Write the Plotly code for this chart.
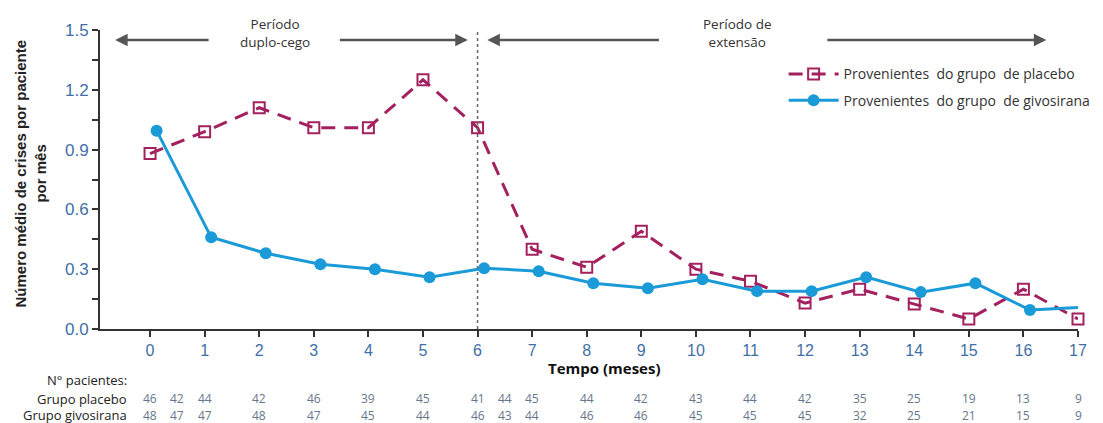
import plotly.graph_objects as go

# Mean number of attacks per patient per month, by month of follow-up
months = list(range(18))
placebo = [0.88, 0.99, 1.11, 1.01, 1.01, 1.25, 1.01, 0.40, 0.31, 0.49,
           0.30, 0.24, 0.13, 0.20, 0.125, 0.05, 0.20, 0.05]
givosiran = [0.995, 0.46, 0.38, 0.325, 0.30, 0.26, 0.305, 0.29, 0.23, 0.205,
             0.25, 0.19, 0.19, 0.26, 0.185, 0.23, 0.095, 0.11]

# Number of patients at each visit
count_months = [0, 0.5, 1, 2, 3, 4, 5, 6, 6.5, 7, 8, 9, 10, 11, 12, 13, 14, 15, 16, 17]
n_placebo = [46, 42, 44, 42, 46, 39, 45, 41, 44, 45, 44, 42, 43, 44, 42, 35, 25, 19, 13, 9]
n_givosiran = [48, 47, 47, 48, 47, 45, 44, 46, 43, 44, 46, 46, 45, 45, 45, 32, 25, 21, 15, 9]

y_ticks = [0.0, 0.3, 0.6, 0.9, 1.2, 1.5]

PLACEBO_COLOR = "#a3215f"
GIVO_COLOR = "#1b9ad8"
TICK_COLOR = "#3f6fa6"
AXIS_COLOR = "#333333"
ARROW_COLOR = "#555555"
TEXT_FONT = "Open Sans"
DODGE = 0.12  # small horizontal offset so the two series don't overlap

fig = go.Figure()

fig.add_trace(go.Scatter(
    x=months, y=placebo, mode="lines+markers",
    name="Provenientes  do grupo  de placebo", legendgroup="placebo",
    line=dict(color=PLACEBO_COLOR, width=3, dash="14px,9px"),
    marker=dict(symbol="square-open", size=11, color=PLACEBO_COLOR,
                line=dict(width=2, color=PLACEBO_COLOR)),
    cliponaxis=False,
))
fig.add_trace(go.Scatter(
    x=[m + DODGE for m in months], y=givosiran, mode="lines+markers",
    name="Provenientes  do grupo  de givosirana", legendgroup="givosiran",
    line=dict(color=GIVO_COLOR, width=3),
    marker=dict(symbol="circle", size=12, color=GIVO_COLOR),
    cliponaxis=False,
))

# Boundary between the double-blind and the extension period
fig.add_shape(type="line", x0=6, x1=6, y0=0, y1=1.54, xref="x", yref="y",
              line=dict(color="#666666", width=1.5, dash="dot"))

# Period arrows
arrows = [(1.1, -0.64), (3.45, 5.82), (9.35, 6.18), (12.38, 16.42)]
for start, end in arrows:
    fig.add_annotation(x=end, y=1.45, ax=start, ay=1.45, xref="x", yref="y",
                       axref="x", ayref="y", text="", showarrow=True,
                       arrowhead=2, arrowsize=1.0, arrowwidth=2.5,
                       arrowcolor=ARROW_COLOR)

fig.add_annotation(x=2.29, y=1.485, xref="x", yref="y", showarrow=False,
                   xanchor="center", yanchor="middle", align="center",
                   text="Período<br>duplo-cego",
                   font=dict(family=TEXT_FONT, size=13.5, color="#333333"))
fig.add_annotation(x=10.76, y=1.485, xref="x", yref="y", showarrow=False,
                   xanchor="center", yanchor="middle", align="center",
                   text="Período de<br>extensão",
                   font=dict(family=TEXT_FONT, size=13.5, color="#333333"))

# Y axis title, one annotation per line so both lines stay centred
y_title_lines = [(-0.0808, "<b>Número médio de crises por paciente</b>"),
                 (-0.0613, "<b>por mês</b>")]
for xpos, line in y_title_lines:
    fig.add_annotation(x=xpos, y=0.52, xref="paper", yref="paper", showarrow=False,
                       xanchor="center", yanchor="middle", textangle=-90,
                       text=line,
                       font=dict(family="Liberation Sans", size=15, color="#222222"))
fig.add_annotation(x=0.516, y=-0.13, xref="paper", yref="paper", showarrow=False,
                   xanchor="center", yanchor="middle",
                   text="<b>Tempo (meses)</b>",
                   font=dict(family=TEXT_FONT, size=15, color="#111111"))

# Patients-at-risk table
LABEL_X = 0.03
ROW_Y = {"header": -0.171, "placebo": -0.234, "givosiran": -0.288}
row_labels = [("header", "N° pacientes:"), ("placebo", "Grupo placebo"),
              ("givosiran", "Grupo givosirana")]
for key, label in row_labels:
    fig.add_annotation(x=LABEL_X, y=ROW_Y[key], xref="paper", yref="paper",
                       showarrow=False, xanchor="right", yanchor="middle",
                       text=label,
                       font=dict(family=TEXT_FONT, size=13, color="#222222"))
for m, a, b in zip(count_months, n_placebo, n_givosiran):
    fig.add_annotation(x=m, y=ROW_Y["placebo"], xref="x", yref="paper",
                       showarrow=False, xanchor="center", yanchor="middle",
                       text=str(a), font=dict(family=TEXT_FONT, size=12, color="#66768c"))
    fig.add_annotation(x=m, y=ROW_Y["givosiran"], xref="x", yref="paper",
                       showarrow=False, xanchor="center", yanchor="middle",
                       text=str(b), font=dict(family=TEXT_FONT, size=12, color="#66768c"))

fig.update_xaxes(
    range=[-0.917, 17], tickvals=months, ticktext=[str(m) for m in months],
    showline=True, linecolor=AXIS_COLOR, linewidth=2,
    ticks="outside", ticklen=6, tickwidth=1.5, tickcolor=AXIS_COLOR,
    tickfont=dict(family="Liberation Sans", size=16, color=TICK_COLOR),
    showgrid=False, zeroline=False,
)
fig.update_yaxes(
    range=[0, 1.5], tickvals=y_ticks, tickformat=".1f",
    showline=True, linecolor=AXIS_COLOR, linewidth=2,
    ticks="outside", ticklen=6, tickwidth=1.5, tickcolor=AXIS_COLOR,
    minor=dict(dtick=0.15, tick0=0, ticks="outside", ticklen=6, tickwidth=1.5,
               tickcolor=AXIS_COLOR, showgrid=False),
    tickfont=dict(family="Liberation Sans", size=17, color=TICK_COLOR),
    showgrid=False, zeroline=False,
)

fig.update_layout(
    width=1103, height=423,
    margin=dict(l=100, r=25, t=30, b=94, autoexpand=False),
    paper_bgcolor="white", plot_bgcolor="white",
    showlegend=True,
    legend=dict(x=0.699, y=0.905, xanchor="left", yanchor="top",
                bgcolor="rgba(0,0,0,0)", itemwidth=50,
                font=dict(family=TEXT_FONT, size=14, color="#333333"),
                tracegroupgap=5),
)

fig.write_html("out.html")
